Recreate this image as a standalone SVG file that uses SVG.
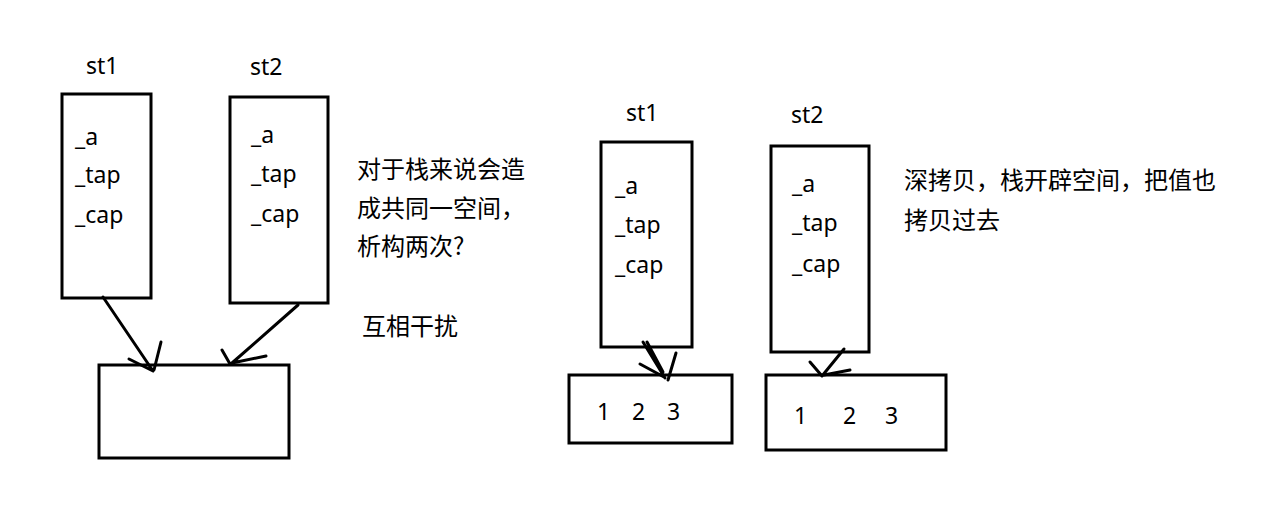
<svg xmlns="http://www.w3.org/2000/svg" width="1284" height="507" viewBox="0 0 1284 507">
<style>
.box{fill:none;stroke:#000;stroke-width:3}
.ln{fill:none;stroke:#000;stroke-width:3;stroke-linecap:round}
.t{font-family:"Noto Sans","Noto Sans CJK SC",sans-serif;font-size:23px;fill:#000}
.c{font-family:"Noto Sans CJK SC","Noto Sans",sans-serif;font-size:24px;fill:#000}
</style>
<rect width="1284" height="507" fill="#fff"/>
<g id="left-st1">
<text class="t" x="86" y="74">st1</text>
<rect class="box" x="62" y="94" width="89" height="204"/>
<text class="t" x="75" y="145">_a</text>
<text class="t" x="75" y="183">_tap</text>
<text class="t" x="75" y="223">_cap</text>
</g>
<g id="left-st2">
<text class="t" x="250" y="75">st2</text>
<rect class="box" x="230" y="97" width="98" height="206"/>
<text class="t" x="251" y="143">_a</text>
<text class="t" x="251" y="182">_tap</text>
<text class="t" x="251" y="222">_cap</text>
</g>
<g id="left-heap">
<rect class="box" x="99" y="365" width="190" height="93"/>
</g>
<g id="left-note">
<text class="c" x="357" y="178">对于栈来说会造</text>
<text class="c" x="357" y="217">成共同一空间，</text>
<text class="c" x="357" y="255">析构两次?</text>
<text class="c" x="362" y="335">互相干扰</text>
</g>
<g id="right-st1">
<text class="t" x="626" y="121">st1</text>
<rect class="box" x="601" y="142" width="91" height="205"/>
<text class="t" x="615" y="194">_a</text>
<text class="t" x="615" y="233">_tap</text>
<text class="t" x="615" y="273">_cap</text>
</g>
<g id="right-st2">
<text class="t" x="791" y="123">st2</text>
<rect class="box" x="771" y="146" width="98" height="206"/>
<text class="t" x="792" y="192">_a</text>
<text class="t" x="792" y="231">_tap</text>
<text class="t" x="792" y="272">_cap</text>
</g>
<g id="right-heap1">
<rect class="box" x="569" y="375" width="163" height="68"/>
<text class="t" x="597" y="420">1</text>
<text class="t" x="632" y="420">2</text>
<text class="t" x="667" y="420">3</text>
</g>
<g id="right-heap2">
<rect class="box" x="766" y="375" width="180" height="75"/>
<text class="t" x="794" y="424">1</text>
<text class="t" x="843" y="424">2</text>
<text class="t" x="885" y="424">3</text>
</g>
<g id="right-note">
<text class="c" x="904" y="189">深拷贝，栈开辟空间，把值也</text>
<text class="c" x="904" y="229">拷贝过去</text>
</g>
<g id="connectors">
<path class="ln" d="M103 297 L153 371 M129 359 L153 371 M161 342 L154 370"/>
<path class="ln" d="M298 305 L232 363 M222 350 L230 364 M266 356 L232 363"/>
<path class="ln" d="M643 342 L665 378 M647 342 L663 372 M640 364 L664 377 M676 353 L668 380"/>
<path class="ln" d="M844 349 L822 376 M810 362 L822 376 M850 370 L824 375"/>
</g>
</svg>
